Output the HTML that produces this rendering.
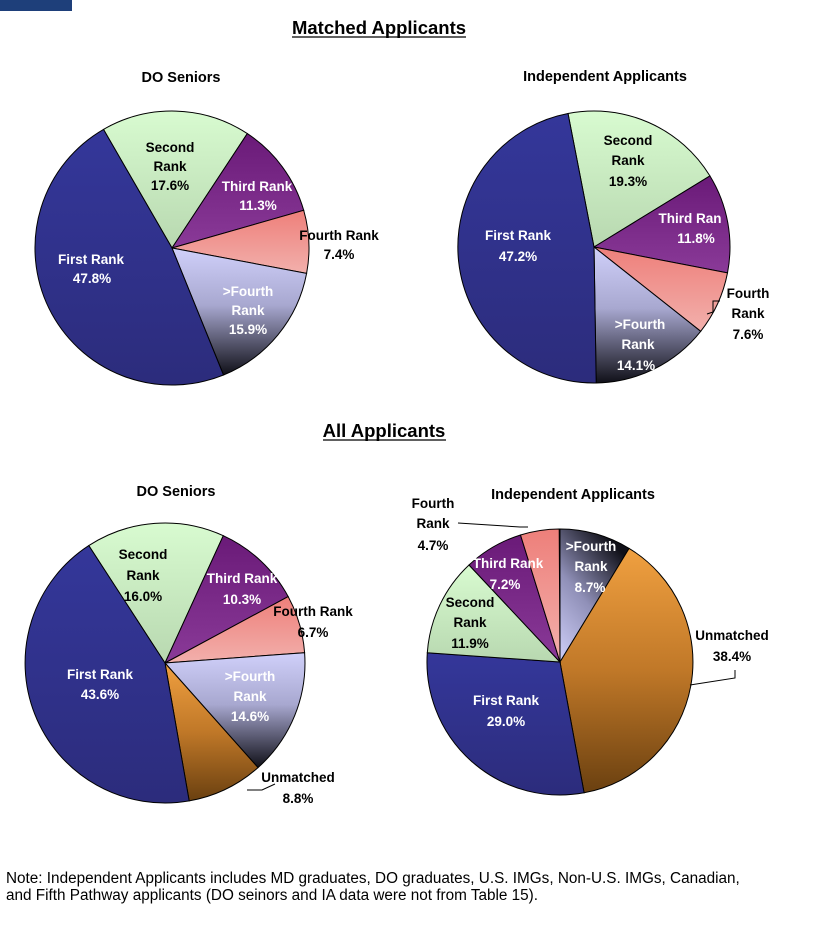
<!DOCTYPE html>
<html><head><meta charset="utf-8"><style>
body{margin:0;background:#fff;width:828px;height:931px;overflow:hidden;font-family:"Liberation Sans",Arial,sans-serif}
svg text{font-family:"Liberation Sans",Arial,sans-serif;font-weight:bold}
svg text.n{font-weight:normal}
</style></head><body>
<svg id="s" width="828" height="931" xmlns="http://www.w3.org/2000/svg">
<defs>
<linearGradient id="gFirst" x1="0" y1="0" x2="0" y2="1"><stop offset="0" stop-color="#34379a"/><stop offset="1" stop-color="#2c2c7c"/></linearGradient>
<linearGradient id="gSecond" x1="0" y1="0" x2="0" y2="1"><stop offset="0" stop-color="#d8fbd0"/><stop offset="1" stop-color="#b8d8b0"/></linearGradient>
<linearGradient id="gThird" x1="0" y1="0" x2="0" y2="1"><stop offset="0" stop-color="#6a1a78"/><stop offset="1" stop-color="#8a3a98"/></linearGradient>
<linearGradient id="gFourth" x1="0" y1="0" x2="0" y2="1"><stop offset="0" stop-color="#ee7f7a"/><stop offset="1" stop-color="#f2b0ac"/></linearGradient>
<linearGradient id="gGt" x1="0" y1="0" x2="0" y2="1"><stop offset="0" stop-color="#d0d0fa"/><stop offset="0.45" stop-color="#a8a8d0"/><stop offset="1" stop-color="#101018"/></linearGradient>
<linearGradient id="gGt2" x1="0" y1="1" x2="0.6" y2="0"><stop offset="0" stop-color="#d0d0fa"/><stop offset="0.5" stop-color="#9090b8"/><stop offset="1" stop-color="#101018"/></linearGradient>
<linearGradient id="gUn" x1="0" y1="0" x2="0" y2="1"><stop offset="0" stop-color="#f0a040"/><stop offset="0.5" stop-color="#c07828"/><stop offset="1" stop-color="#6a4010"/></linearGradient>
</defs>
<rect x="0" y="0" width="72" height="11" fill="#1e3f7a"/>
<g id="pies"></g>
<g fill="#000">
<text x="379" y="34" text-anchor="middle" font-size="18.5">Matched Applicants</text>
<line x1="292" y1="37" x2="466" y2="37" stroke="#000" stroke-width="1.3"/>
<text x="181" y="82" text-anchor="middle" font-size="14.5">DO Seniors</text>
<text x="605" y="81" text-anchor="middle" font-size="14.5">Independent Applicants</text>
<text x="384" y="437" text-anchor="middle" font-size="18.5">All Applicants</text>
<line x1="323" y1="440" x2="446" y2="440" stroke="#000" stroke-width="1.3"/>
<text x="176" y="496" text-anchor="middle" font-size="14.5">DO Seniors</text>
<text x="573" y="499" text-anchor="middle" font-size="14.5">Independent Applicants</text>
</g>
<g font-size="13.5" text-anchor="middle">
<text x="170" y="152">Second</text><text x="170" y="171">Rank</text><text x="170" y="190">17.6%</text>
<text x="257" y="191" fill="#fff">Third Rank</text><text x="258" y="210" fill="#fff">11.3%</text>
<text x="339" y="240">Fourth Rank</text><text x="339" y="259">7.4%</text>
<text x="91" y="264" fill="#fff">First Rank</text><text x="92" y="283" fill="#fff">47.8%</text>
<text x="248" y="296" fill="#fff">&gt;Fourth</text><text x="248" y="315" fill="#fff">Rank</text><text x="248" y="334" fill="#fff">15.9%</text>
<text x="628" y="145">Second</text><text x="628" y="165">Rank</text><text x="628" y="186">19.3%</text>
<text x="690" y="223" fill="#fff">Third Ran</text><text x="696" y="243" fill="#fff">11.8%</text>
<text x="518" y="240" fill="#fff">First Rank</text><text x="518" y="261" fill="#fff">47.2%</text>
<text x="640" y="329" fill="#fff">&gt;Fourth</text><text x="638" y="349" fill="#fff">Rank</text><text x="636" y="370" fill="#fff">14.1%</text>
<text x="748" y="298">Fourth</text><text x="748" y="318">Rank</text><text x="748" y="339">7.6%</text>
<text x="143" y="559">Second</text><text x="143" y="580">Rank</text><text x="143" y="601">16.0%</text>
<text x="242" y="583" fill="#fff">Third Rank</text><text x="242" y="604" fill="#fff">10.3%</text>
<text x="313" y="616">Fourth Rank</text><text x="313" y="637">6.7%</text>
<text x="100" y="679" fill="#fff">First Rank</text><text x="100" y="699" fill="#fff">43.6%</text>
<text x="250" y="681" fill="#fff">&gt;Fourth</text><text x="250" y="701" fill="#fff">Rank</text><text x="250" y="721" fill="#fff">14.6%</text>
<text x="298" y="782">Unmatched</text><text x="298" y="803">8.8%</text>
<text x="433" y="508">Fourth</text><text x="433" y="528">Rank</text><text x="433" y="550">4.7%</text>
<text x="508" y="568" fill="#fff">Third Rank</text><text x="505" y="589" fill="#fff">7.2%</text>
<text x="470" y="607">Second</text><text x="470" y="627">Rank</text><text x="470" y="648">11.9%</text>
<text x="591" y="551" fill="#fff">&gt;Fourth</text><text x="591" y="571" fill="#fff">Rank</text><text x="590" y="592" fill="#fff">8.7%</text>
<text x="732" y="640">Unmatched</text><text x="732" y="661">38.4%</text>
<text x="506" y="705" fill="#fff">First Rank</text><text x="506" y="726" fill="#fff">29.0%</text>
</g>
<g stroke="#000" stroke-width="1" fill="none">
<polyline points="720,301 713,301 713,312 707,314"/>
<polyline points="275,784 262,790 247,790"/>
<polyline points="458,523 520,527 528,527"/>
<polyline points="735,670 735,678 690,685"/>
</g>
<g font-size="15.3" fill="#000">
<text class="n" x="6" y="883">Note: Independent Applicants includes MD graduates, DO graduates, U.S. IMGs, Non-U.S. IMGs, Canadian,</text>
<text class="n" x="6" y="900">and Fifth Pathway applicants (DO seinors and IA data were not from Table 15).</text>
</g>
</svg>
<script>
const pies=[
 {cx:172,cy:248,r:137,start:-30,s:[[17.6,'gSecond'],[11.3,'gThird'],[7.4,'gFourth'],[15.9,'gGt'],[47.8,'gFirst']]},
 {cx:594,cy:247,r:136,start:-11,s:[[19.3,'gSecond'],[11.8,'gThird'],[7.6,'gFourth'],[14.1,'gGt'],[47.2,'gFirst']]},
 {cx:165,cy:663,r:140,start:-33,s:[[16.0,'gSecond'],[10.3,'gThird'],[6.7,'gFourth'],[14.6,'gGt'],[8.8,'gUn'],[43.6,'gFirst']]},
 {cx:560,cy:662,r:133,start:0,s:[[8.7,'gGt2'],[38.4,'gUn'],[29.0,'gFirst'],[11.9,'gSecond'],[7.2,'gThird'],[4.7,'gFourth']]}
];
let h='';
for(const p of pies){let a=p.start;for(const [v,g] of p.s){const b=a+v*3.6;
 const pt=t=>[p.cx+p.r*Math.sin(t*Math.PI/180),p.cy-p.r*Math.cos(t*Math.PI/180)];
 const [x1,y1]=pt(a),[x2,y2]=pt(b);
 h+=`<path d="M${p.cx},${p.cy}L${x1.toFixed(1)},${y1.toFixed(1)}A${p.r},${p.r} 0 ${b-a>180?1:0} 1 ${x2.toFixed(1)},${y2.toFixed(1)}Z" fill="url(#${g})" stroke="#000" stroke-width="1"/>`;a=b;}}
document.getElementById('pies').innerHTML=h;
</script>
</body></html>
